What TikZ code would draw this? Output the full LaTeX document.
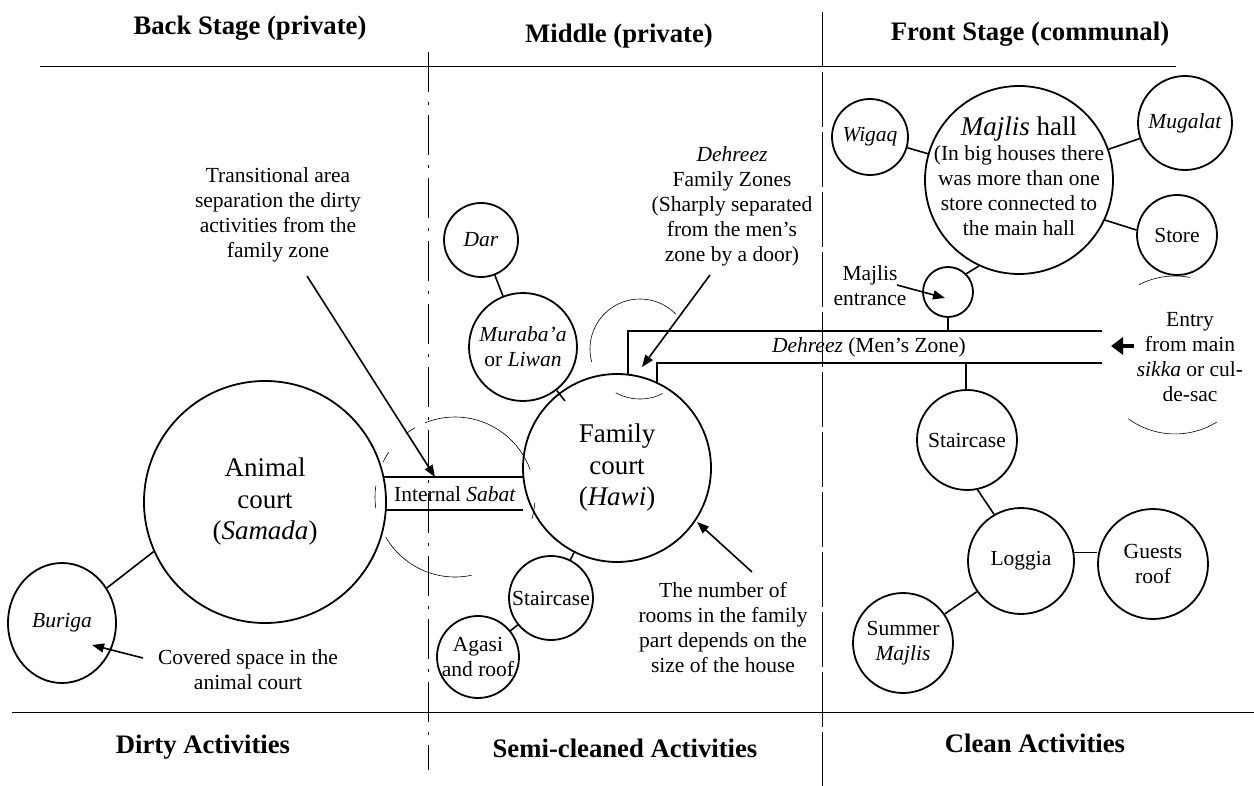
\documentclass[tikz,border=0pt]{standalone}
\usepackage{fontspec}
\setmainfont{Liberation Serif}
\usetikzlibrary{arrows.meta,shapes.geometric}

\tikzset{
  room/.style={circle, draw, line width=1.8pt, inner sep=0pt, align=center,
               font=\fontsize{21.5}{25}\selectfont},
  court/.style={room, font=\fontsize{27}{31.5}\selectfont},
  link/.style={line width=1.6pt},
  wall/.style={line width=1.9pt},
  swing/.style={line width=0.6pt},
  note/.style={align=center, inner sep=0pt, font=\fontsize{21.5}{25}\selectfont},
  head/.style={inner sep=0pt, font=\fontsize{26.7}{31}\selectfont\bfseries},
  arr/.style={line width=1.6pt, -{Triangle[length=12pt,width=9pt]}},
  rule/.style={line width=0.9pt},
  zoneA/.style={line width=0.7pt, dash pattern=on 40pt off 10pt on 3pt off 10pt},
  zoneB/.style={line width=0.7pt, dash pattern=on 55pt off 5pt},
}

\begin{document}
\begin{tikzpicture}[x=1pt,y=-1pt]
\useasboundingbox (0,0) rectangle (1254,786);

% column headings and footings
\node[head] (hback)  at (250,28)  {Back Stage (private)};
\node[head] (hmid)   at (619,36)  {Middle (private)};
\node[head] (hfront) at (1030,34) {Front Stage (communal)};
\node[head] (fdirty) at (203,747) {Dirty Activities};
\node[head] (fsemi)  at (625,748) {Semi-cleaned Activities};
\node[head] (fclean) at (1035,743) {Clean Activities};

% frame rules and zone dividers
\draw[rule] (40,66) -- (1176,66);
\draw[rule] (12,712) -- (1254,712);
\draw[zoneA] (428,52) -- (428,770);
\draw[zoneB] (822,12) -- (822,786);

% back stage
\node[court, minimum size=242pt] (animal) at (265,502) {Animal\\court\\(\textit{Samada})};
\node[room, ellipse, minimum width=108pt, minimum height=120pt] (buriga) at (62,623) {\textit{Buriga}};
\draw[link] (buriga.38) -- (animal.204);

% middle
\node[court, minimum size=188pt] (family) at (617,468) {Family\\court\\(\textit{Hawi})};
\node[room, minimum size=74pt]  (dar)      at (481,240) {\textit{Dar}};
\node[room, minimum size=108pt, inner sep=-6pt] (muraba) at (523,347) {\textit{Muraba'a}\\or \textit{Liwan}};
\node[room, minimum size=84pt, inner sep=-6pt]  (stairfam) at (551,598) {Staircase};
\node[room, minimum size=82pt, inner sep=-8pt]  (agasi)    at (478,657) {Agasi\\and roof};
\draw[link] (dar) -- (muraba);
\draw[link, shorten >=-10pt] (muraba) -- (family);
\draw[link] (family) -- (stairfam);
\draw[link] (stairfam) -- (agasi);

% internal sabat between the two courts
\coordinate (sabTL) at (384,477);
\coordinate (sabTR) at (523,477);
\coordinate (sabBL) at (386,510);
\coordinate (sabBR) at (523,510);
\draw[wall] (sabTL) -- (sabTR);
\draw[wall] (sabBL) -- (sabBR);
\node[note] (sabat) at (455,494) {Internal \textit{Sabat}};

% door swing round the sabat
\coordinate (sabC) at (455,497);
\draw[swing] (sabC) ++(-112:80) arc[start angle=-112, end angle=-20, radius=80];
\draw[swing] (sabC) ++(-128:80) arc[start angle=-128, end angle=-120, radius=80];
\draw[swing] (sabC) ++(-154:80) arc[start angle=-154, end angle=-146, radius=80];
\draw[swing] (sabC) ++(-188:80) arc[start angle=-188, end angle=-172, radius=80];
\draw[swing] (sabC) ++(78:80) arc[start angle=78, end angle=150, radius=80];
\draw[swing] (sabC) ++(4:80) arc[start angle=4, end angle=16, radius=80];

% dehreez corridor
\coordinate (dA) at (628,375);
\coordinate (dB) at (628,331);
\coordinate (dC) at (1102,331);
\coordinate (dD) at (657,383);
\coordinate (dE) at (657,363);
\coordinate (dF) at (1102,363);
\draw[wall] (dA) -- (dB) -- (dC);
\draw[wall] (dD) -- (dE) -- (dF);
\node[note] (dehreez) at (869,347) {\textit{Dehreez} (Men's Zone)};

% door swing at the family door
\coordinate (doorC) at (640,349);
\draw[swing] (doorC) ++(-44:50) arc[start angle=-44, end angle=-195, radius=50];
\draw[swing] (doorC) ++(63:50) arc[start angle=63, end angle=119, radius=50];

% door swing at the street entry
\coordinate (entryC) at (1175,355);
\draw[swing] (entryC) ++(-117:79) arc[start angle=-117, end angle=-79, radius=79];
\draw[swing] (entryC) ++(58:79) arc[start angle=58, end angle=126, radius=79];

% front stage
\node[room, minimum size=188pt] (majlis) at (1019,180) {};
\node[note] (majlistext) at (1019,176)
  {{\fontsize{27}{31}\selectfont\textit{Majlis} hall}\\(In big houses there\\was more than one\\store connected to\\the main hall};
\node[room, minimum size=76pt]  (wigaq)      at (870,137)  {\textit{Wigaq}};
\node[room, minimum size=94pt]  (mugalat)    at (1185,123) {\textit{Mugalat}};
\node[room, minimum size=80pt]  (store)      at (1177,235) {Store};
\node[room, minimum size=50pt]  (entr)       at (948,292)  {};
\node[room, minimum size=100pt] (stairfront) at (967,440)  {Staircase};
\node[room, minimum size=106pt] (loggia)     at (1021,561) {Loggia};
\node[room, minimum size=110pt] (guests)     at (1153,564) {Guests\\roof};
\node[room, minimum size=100pt] (summer)     at (903,643)  {Summer\\\textit{Majlis}};
\draw[link] (wigaq) -- (majlis);
\draw[link] (mugalat) -- (majlis);
\draw[link] (majlis.-25) -- (store.173);
\draw[link] (entr.45) -- (majlis.245);
\draw[link] (stairfront.-78) -- (loggia.120);
\draw[link] (loggia.9) -- (loggia.9 -| guests.west);
\draw[link] (loggia) -- (summer);

\coordinate (dTop) at (948,331);
\coordinate (dBot) at (966,363);
\draw[link] (entr.south) -- (dTop);
\draw[link] (dBot) -- (dBot |- stairfront.north);

% annotations
\node[note] (trans) at (278,215) {Transitional area\\separation the dirty\\activities from the\\family zone};
\node[note] (dehann) at (732,206) {\textit{Dehreez}\\Family Zones\\(Sharply separated\\from the men's\\zone by a door)};
\node[note] (rooms) at (723,628) {The number of\\rooms in the family\\part depends on the\\size of the house};
\node[note] (entrlbl) at (870,286) {Majlis\\entrance};
\node[note] (covered) at (248,670) {Covered space in the\\animal court};
\node[note] (entry) at (1190,357) {Entry\\from main\\\textit{sikka} or cul-\\de-sac};

\coordinate (transTail) at (307,276);
\coordinate (transTip)  at (435,477);
\coordinate (dehTail)   at (710,275);
\coordinate (dehTip)    at (642,367);
\coordinate (roomsTail) at (752,572);
\coordinate (roomsTip)  at (697,522);
\coordinate (entTail)   at (897,285);
\coordinate (entTip)    at (945,298);
\coordinate (burTail)   at (143,658);
\coordinate (burTip)    at (92,645);
\coordinate (inTail)    at (1134,346);
\coordinate (inTip)     at (1111,346);
\draw[arr] (transTail) -- (transTip);
\draw[arr] (dehTail) -- (dehTip);
\draw[arr] (roomsTail) -- (roomsTip);
\draw[arr] (entTail) -- (entTip);
\draw[arr] (burTail) -- (burTip);
\draw[line width=4pt, -{Triangle[length=12pt,width=17pt]}] (inTail) -- (inTip);
\end{tikzpicture}
\end{document}
